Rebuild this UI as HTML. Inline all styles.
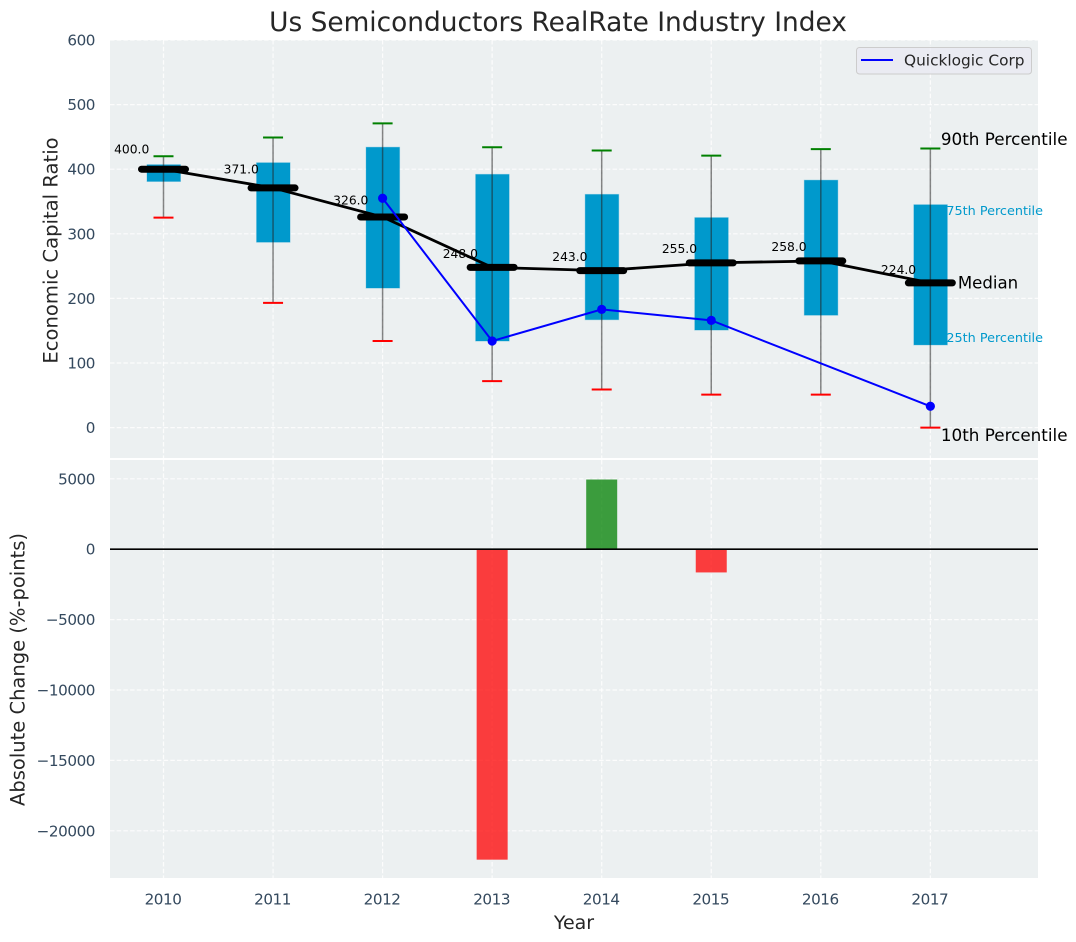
<!DOCTYPE html>
<html>
<head>
<meta charset="utf-8">
<title>Us Semiconductors RealRate Industry Index</title>
<style>
html,body{margin:0;padding:0;background:#fff;width:1076px;height:942px;overflow:hidden}
svg{display:block}
text{font-family:"DejaVu Sans","Liberation Sans",sans-serif}
</style>
</head>
<body>
<svg id="chart" xmlns="http://www.w3.org/2000/svg" width="1076" height="942" viewBox="0 0 1076 942"></svg>
<script>
const years = [2010, 2011, 2012, 2013, 2014, 2015, 2016, 2017];
const p90 = [420, 449, 471, 434, 429, 421, 431, 432];
const p75 = [407, 410, 434, 392, 361, 325, 383, 345];
const medians = [400, 371, 326, 248, 243, 255, 258, 224];
const p25 = [381, 287, 216, 134, 167, 151, 174, 128];
const p10 = [325, 193, 134, 72, 59, 51, 51, 0];
const company = [null, null, 355, 134, 183, 166, null, 33];
const changes = [0, 0, 0, -22050, 4950, -1650, 0, 0];
const topTicks = [0, 100, 200, 300, 400, 500, 600];
const bottomTicks = [-20000, -15000, -10000, -5000, 0, 5000];

const NS = 'http://www.w3.org/2000/svg';
const svg = document.getElementById('chart');
const X = v => 163.5 + (v - 2010) * 109.55;
const YT = v => 427.6 - v * 0.646;
const YB = v => 549.2 - v * 0.01408;
function mk(tag, attrs, text) {
  const el = document.createElementNS(NS, tag);
  for (const k in attrs) el.setAttribute(k, attrs[k]);
  if (text !== undefined) el.textContent = text;
  svg.appendChild(el);
  return el;
}
let el;

el = mk('rect', {x:110, y:40, width:928, height:418, fill:'#ecf0f1'});


el = mk('rect', {x:110, y:460, width:928, height:418, fill:'#ecf0f1'});



const gridStyle = {stroke:'#fff', 'stroke-width':1.2, 'stroke-dasharray':'4.5 2.2', opacity:0.85};
const tickStyle = {'font-size':15.2, 'letter-spacing':-0.45, fill:'#34495e'};
years.forEach(y => {
  el = mk('line', Object.assign({x1:X(y), x2:X(y), y1:40, y2:458}, gridStyle));
  
  
  el = mk('line', Object.assign({x1:X(y), x2:X(y), y1:460, y2:878}, gridStyle));
  
  
  el = mk('text', Object.assign({x:X(y) - 0.5, y:904.5, 'text-anchor':'middle'}, tickStyle), String(y));
  
  
});
topTicks.forEach(t => {
  el = mk('line', Object.assign({x1:110, x2:1038, y1:YT(t), y2:YT(t)}, gridStyle));
  
  
  el = mk('text', Object.assign({x:95, y:YT(t) + 5.5, 'text-anchor':'end'}, tickStyle), String(t));
  
  
});
bottomTicks.forEach(t => {
  el = mk('line', Object.assign({x1:110, x2:1038, y1:YB(t), y2:YB(t)}, gridStyle));
  
  
  el = mk('text', Object.assign({x:95, y:YB(t) + 5.5, 'text-anchor':'end'}, tickStyle), String(t).replace('-', '\u2212'));
  
  
});

/* percentile boxes */
years.forEach((y, i) => {
  el = mk('rect', {x:X(y) - 16.5, y:YT(p75[i]), width:33.5, height:YT(p25[i]) - YT(p75[i]), fill:'#0099cc', stroke:'#0099cc', 'stroke-opacity':0.3, 'stroke-width':1});
  
  
});
/* whiskers */
years.forEach((y, i) => {
  el = mk('line', {x1:X(y), x2:X(y), y1:YT(p90[i]), y2:YT(p10[i]), stroke:'#222', 'stroke-opacity':0.55, 'stroke-width':1.5});
  
  
  el = mk('line', {x1:X(y) - 10, x2:X(y) + 10, y1:YT(p90[i]), y2:YT(p90[i]), stroke:'#008000', 'stroke-width':2});
  
  
  el = mk('line', {x1:X(y) - 10, x2:X(y) + 10, y1:YT(p10[i]), y2:YT(p10[i]), stroke:'#ff0000', 'stroke-width':2});
  
  
});
/* median value labels */
years.forEach((y, i) => {
  el = mk('text', {x:X(y) - 14.2, y:YT(medians[i] * 1.06), 'text-anchor':'end', 'font-size':12.3, fill:'#000'}, medians[i].toFixed(1));
  
  
});
/* median trend */
el = mk('polyline', {points:years.map((y, i) => X(y) + ',' + YT(medians[i])).join(' '), fill:'none', stroke:'#000', 'stroke-width':2.8, 'stroke-linejoin':'round'});


years.forEach((y, i) => {
  el = mk('line', {x1:X(y) - 22, x2:X(y) + 22, y1:YT(medians[i]), y2:YT(medians[i]), stroke:'#000', 'stroke-width':7, 'stroke-linecap':'round'});
  
  
});
/* company line */
const companyPts = years.map((y, i) => company[i] === null ? null : [X(y), YT(company[i])]).filter(Boolean);
el = mk('polyline', {points:companyPts.map(p => p.join(',')).join(' '), fill:'none', stroke:'#0000ff', 'stroke-width':2});


companyPts.forEach(p => {
  el = mk('circle', {cx:p[0], cy:p[1], r:4.6, fill:'#0000ff'});
  
  
});
/* percentile annotations on the last year */
const last = years.length - 1;
const lx = X(years[last]);
el = mk('text', {x:lx + 10.5, y:YT(p90[last]) - 3.5, 'font-size':16.8, fill:'#000'}, '90th Percentile');


el = mk('text', {x:lx + 16, y:YT(p75[last]) + 10.5, 'font-size':12.8, fill:'#0099cc'}, '75th Percentile');


el = mk('text', {x:lx + 27.5, y:YT(medians[last]) + 5.5, 'font-size':16.6, fill:'#000'}, 'Median');


el = mk('text', {x:lx + 16, y:YT(p25[last]) - 3, 'font-size':12.8, fill:'#0099cc'}, '25th Percentile');


el = mk('text', {x:lx + 10.5, y:YT(p10[last]) + 13.5, 'font-size':16.8, fill:'#000'}, '10th Percentile');



/* change bars */
years.forEach((y, i) => {
  if (!changes[i]) return;
  const top = Math.min(YB(0), YB(changes[i]));
  el = mk('rect', {x:X(y) - 15.5, y:top, width:31, height:Math.abs(YB(changes[i]) - YB(0)), fill:changes[i] < 0 ? '#ff0000' : '#008000', 'fill-opacity':0.75});
  
  
});
el = mk('line', {x1:110, x2:1038, y1:YB(0), y2:YB(0), stroke:'#000', 'stroke-width':1.6});



/* legend */
el = mk('rect', {x:856.5, y:47.5, width:175, height:26.5, rx:3, fill:'#eaeaf2', 'fill-opacity':0.8, stroke:'#cccccc', 'stroke-width':1});


el = mk('line', {x1:861, x2:893, y1:60, y2:60, stroke:'#0000ff', 'stroke-width':2});


el = mk('text', {x:904, y:65.5, 'font-size':15.35, fill:'#262626'}, 'Quicklogic Corp');



/* titles */
el = mk('text', {x:558, y:31, 'text-anchor':'middle', 'font-size':26.4, fill:'#262626'}, 'Us Semiconductors RealRate Industry Index');


el = mk('text', {x:574, y:929, 'text-anchor':'middle', 'font-size':19, fill:'#262626'}, 'Year');


el = mk('text', {x:0, y:0, transform:'translate(57.5,250.5) rotate(-90)', 'text-anchor':'middle', 'font-size':19.6, fill:'#262626'}, 'Economic Capital Ratio');


el = mk('text', {x:0, y:0, transform:'translate(24.5,669.5) rotate(-90)', 'text-anchor':'middle', 'font-size':19.5, fill:'#262626'}, 'Absolute Change (%-points)');


</script>
</body>
</html>
